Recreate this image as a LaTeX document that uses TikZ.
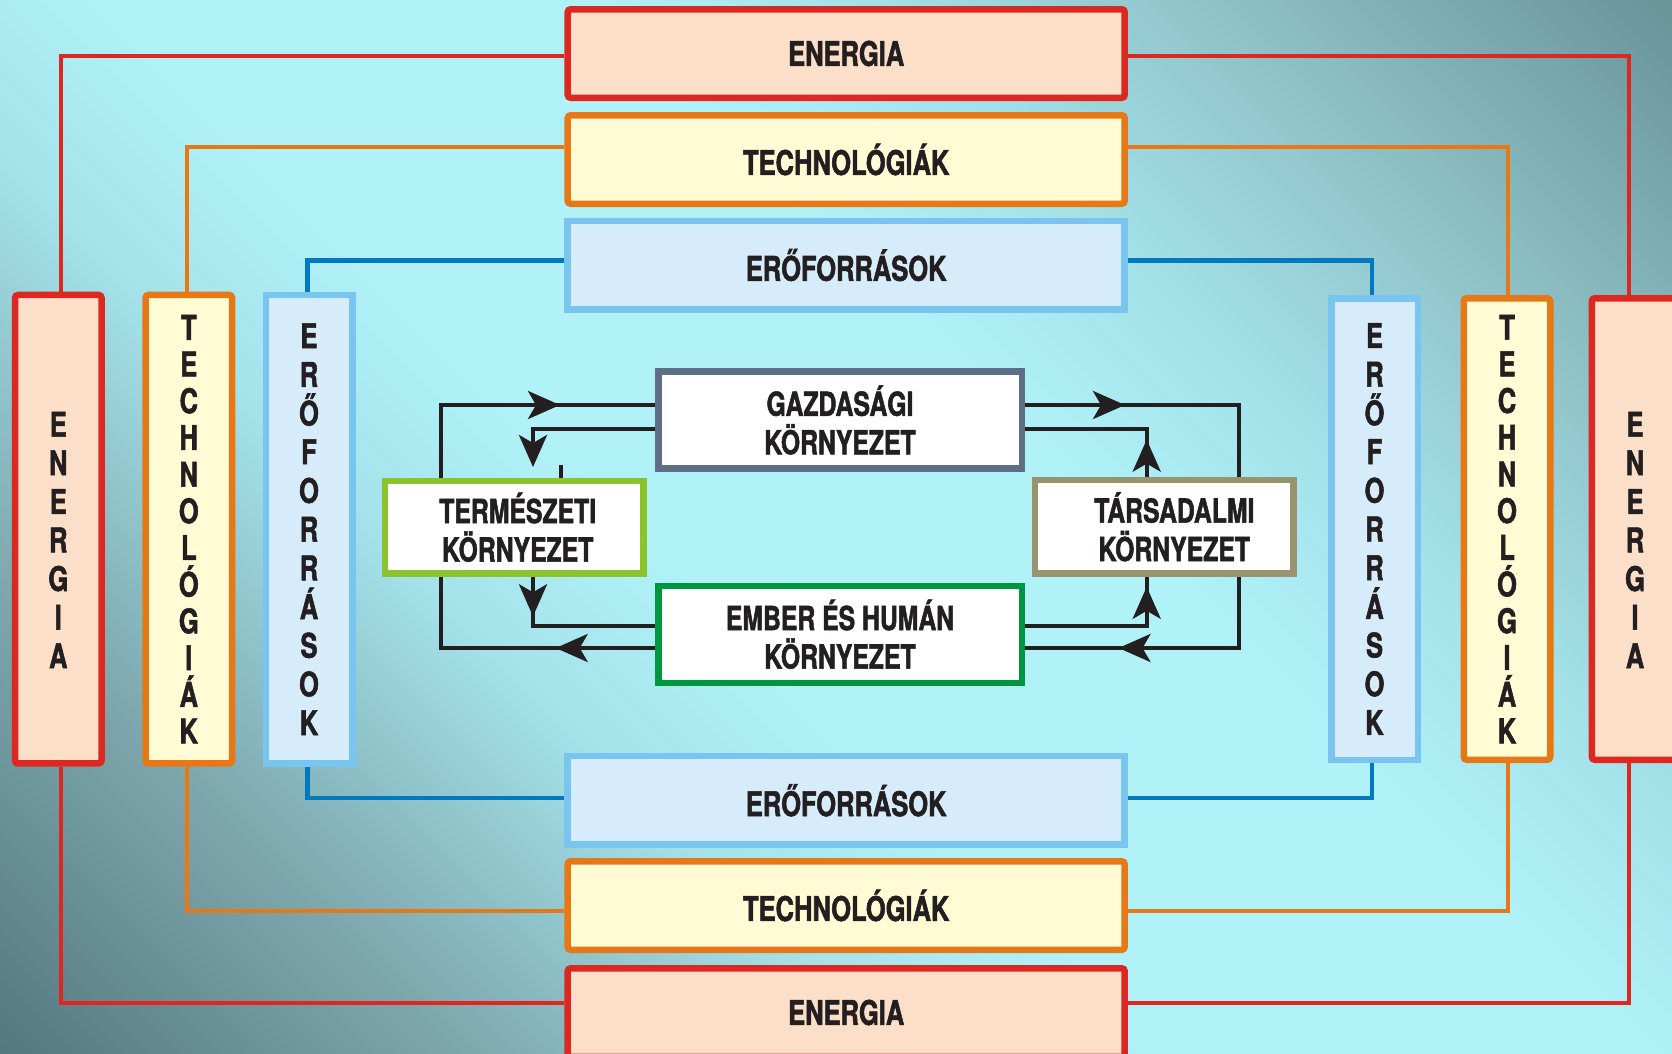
\documentclass[tikz,border=0pt]{standalone}
\usepackage{fontspec}
\newfontfamily\lab{TeX Gyre Heros}[FakeStretch=0.75,FakeBold=1.6]
\usetikzlibrary{arrows.meta,decorations.markings}
\definecolor{txt}{HTML}{231F20}
\definecolor{blkc}{HTML}{231F20}
\definecolor{redc}{HTML}{DC2820}
\definecolor{orac}{HTML}{E77817}
\definecolor{bluec}{HTML}{0079C1}
\definecolor{lbc}{HTML}{79C5EF}
\definecolor{enfill}{HTML}{FCDFC8}
\definecolor{tefill}{HTML}{FFFCD5}
\definecolor{erfill}{HTML}{D7ECFA}
\definecolor{gzc}{HTML}{5E6E86}
\definecolor{tmc}{HTML}{8AC32B}
\definecolor{tsc}{HTML}{99936E}
\definecolor{emc}{HTML}{00963F}
\definecolor{bgA}{HTML}{567880}
\definecolor{bgB}{HTML}{7EA9AF}
\definecolor{bgC}{HTML}{A5E3EB}
\definecolor{bgD}{HTML}{B1F2F9}
\definecolor{bgE}{HTML}{8DC0C6}
\definecolor{bgF}{HTML}{68949A}
\pgfdeclareverticalshading{bgshade}{100bp}{color(0bp)=(bgA); color(14.6bp)=(bgA); color(27bp)=(bgB); color(38bp)=(bgC); color(45bp)=(bgD); color(57bp)=(bgD); color(64bp)=(bgC); color(74bp)=(bgE); color(85.4bp)=(bgF); color(100bp)=(bgF)}
\pgfdeclarelayer{bg}
\pgfdeclarelayer{lines}
\pgfsetlayers{bg,lines,main}
\tikzset{
  ah/.tip={Stealth[length=32pt,width=28pt,inset=8pt]},
  box/.style={draw, line width=6.5pt, inner sep=0pt, text=txt, align=center},
  hbox/.style={box, font=\lab\bfseries\fontsize{34}{38.6}\selectfont, minimum width=557pt, minimum height=88.5pt},
  vboxL/.style={box, minimum width=86.5pt, minimum height=468.5pt},
  vboxR/.style={box, minimum width=86.5pt, minimum height=461.5pt},
  enc/.style={draw=redc, fill=enfill, rounded corners=3pt},
  tec/.style={draw=orac, fill=tefill, rounded corners=3pt},
  erc/.style={draw=lbc, fill=erfill},
  cbox/.style={box, fill=white, font=\lab\bfseries\fontsize{33}{38.5}\selectfont},
  vtxtE/.style={text=txt, align=center, inner sep=0pt, font=\lab\bfseries\fontsize{34}{38.6}\selectfont},
  vtxtT/.style={font=\lab\bfseries\fontsize{34}{36.7}\selectfont},
  vtxtR/.style={font=\lab\bfseries\fontsize{34}{38.7}\selectfont},
  blk/.style={line width=4pt, color=blkc},
  redl/.style={line width=4pt, color=redc},
  oral/.style={line width=4pt, color=orac},
  blul/.style={line width=4.5pt, color=bluec},
}
\begin{document}
\begin{tikzpicture}[x=1pt,y=-1pt]
\useasboundingbox (0,0) rectangle (1672,1053);
\begin{pgfonlayer}{bg}
  \shade[shading=bgshade, shading angle=-45] (0,0) rectangle (1672,1053);
\end{pgfonlayer}

% horizontal boxes
\node[hbox,enc] (EnT) at (846.2,53.5) {ENERGIA};
\node[hbox,tec] (TeT) at (846.2,159.5) {TECHNOLÓGIÁK};
\node[hbox,erc] (ErT) at (846.2,265) {ERŐFORRÁSOK};
\node[hbox,erc] (ErB) at (846.2,800.3) {ERŐFORRÁSOK};
\node[hbox,tec] (TeB) at (846.2,905.5) {TECHNOLÓGIÁK};
\node[hbox,enc] (EnB) at (846.2,1012.5) {ENERGIA};

% vertical boxes left
\node[vboxL,enc] (EnL) at (58.3,529.2) {};
\node[vboxL,tec,vtxtT] (TeL) at (188.8,529.2) {T\\E\\C\\H\\N\\O\\L\\Ó\\G\\I\\Á\\K};
\node[vboxL,erc,vtxtR] (ErL) at (309,529.2) {E\\R\\Ő\\F\\O\\R\\R\\Á\\S\\O\\K};
% vertical boxes right
\node[vboxR,erc,vtxtR] (ErR) at (1374.5,529) {E\\R\\Ő\\F\\O\\R\\R\\Á\\S\\O\\K};
\node[vboxR,tec,vtxtT] (TeR) at (1507,529) {T\\E\\C\\H\\N\\O\\L\\Ó\\G\\I\\Á\\K};
\node[vboxR,enc] (EnR) at (1635,529) {};
\node[vtxtE] (EnLt) at ([yshift=-10.8pt]EnL.center) {E\\N\\E\\R\\G\\I\\A};
\node[vtxtE] (EnRt) at ([yshift=-11pt]EnR.center) {E\\N\\E\\R\\G\\I\\A};

% central boxes
\node[cbox, draw=gzc, minimum width=363.5pt, minimum height=97pt] (G) at (840,420) {GAZDASÁGI\\KÖRNYEZET};
\node[cbox, draw=tmc, minimum width=258.5pt, minimum height=92.5pt] (T) at (514.2,527.3) {\hspace*{7pt}TERMÉSZETI\\\hspace*{7pt}KÖRNYEZET};
\node[cbox, draw=tsc, minimum width=258.8pt, minimum height=93.2pt] (S) at (1164.3,526.8) {\hspace*{20pt}TÁRSADALMI\\\hspace*{20pt}KÖRNYEZET};
\node[cbox, draw=emc, minimum width=363.5pt, minimum height=97pt] (E) at (840,634.3) {EMBER ÉS HUMÁN\\KÖRNYEZET};

\coordinate (tin) at (533,467);

\begin{pgfonlayer}{lines}
  % coloured frame connectors
  \draw[redl] ([yshift=-2pt]EnT.west) -| ([xshift=2.4pt]EnL.north);
  \draw[redl] ([yshift=-2pt]EnT.east) -| ([xshift=-5.7pt]EnR.north);
  \draw[redl] ([yshift=9.5pt]EnB.west) -| ([xshift=2.4pt]EnL.south);
  \draw[redl] ([yshift=9.5pt]EnB.east) -| ([xshift=-5.7pt]EnR.south);
  \draw[oral] ([yshift=12.2pt]TeT.west) -| ([xshift=-2.1pt]TeL.north);
  \draw[oral] ([yshift=12.2pt]TeT.east) -| ([xshift=1pt]TeR.north);
  \draw[oral] ([yshift=-5.5pt]TeB.west) -| ([xshift=-2.1pt]TeL.south);
  \draw[oral] ([yshift=-5.5pt]TeB.east) -| ([xshift=1pt]TeR.south);
  \draw[blul] ([yshift=4.6pt]ErT.west) -| ([xshift=-1.7pt]ErL.north);
  \draw[blul] ([yshift=4.6pt]ErT.east) -| ([xshift=-2.5pt]ErR.north);
  \draw[blul] ([yshift=2.3pt]ErB.west) -| ([xshift=-1.7pt]ErL.south);
  \draw[blul] ([yshift=2.3pt]ErB.east) -| ([xshift=-2.5pt]ErR.south);

  % black cycle connectors
  \draw[blk, postaction={decorate}, decoration={markings,
      mark=at position 99.3pt with {\arrow{ah}},
      mark=at position 576.6pt with {\arrow{ah}}}]
    ([yshift=-13.7pt]E.west) -| ([xshift=-73.5pt]T.north) |- ([yshift=15pt]G.west);
  \draw[blk, -{ah}] ([yshift=-9pt]G.west) -| (tin);
  \draw[blk] ([xshift=46.5pt]T.north) -- ++(0,-13);
  \draw[blk, postaction={decorate}, decoration={markings,
      mark=at position 39.5pt with {\arrow{ah}}}]
    ([xshift=18.8pt]T.south) |- ([yshift=8.6pt]E.west);
  \draw[blk, postaction={decorate}, decoration={markings,
      mark=at position 100pt with {\arrow{ah}},
      mark=at position 577.5pt with {\arrow{ah}}}]
    ([yshift=15pt]G.east) -| ([xshift=74.7pt]S.north) |- ([yshift=-13.7pt]E.east);
  \draw[blk, postaction={decorate}, decoration={markings,
      mark=at position 37.3pt with {\arrow{ah}}}]
    ([xshift=-17.6pt]S.north) |- ([yshift=-9pt]G.east);
  \draw[blk, postaction={decorate}, decoration={markings,
      mark=at position 160.6pt with {\arrow{ah}}}]
    ([yshift=8.6pt]E.east) -| ([xshift=-17.6pt]S.south);
\end{pgfonlayer}
\end{tikzpicture}
\end{document}
